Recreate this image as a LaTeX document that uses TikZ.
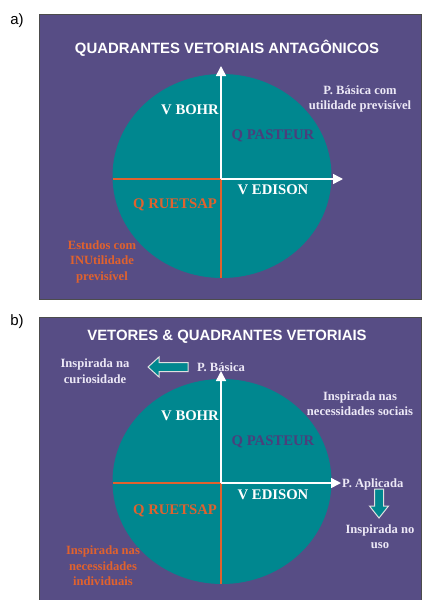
\documentclass[tikz,border=0pt]{standalone}
\usepackage{fontspec}
\setmainfont{Liberation Serif}
\setsansfont{Liberation Sans}
\usetikzlibrary{arrows.meta}
\definecolor{bgpurple}{HTML}{574D85}
\definecolor{teal2}{HTML}{00878F}
\definecolor{orng}{HTML}{E0622E}
\definecolor{dpurple}{HTML}{4B3F7C}
\definecolor{lightlbl}{HTML}{ECE8F6}
\tikzset{
  panel/.style={fill=bgpurple, draw=black!70, line width=1pt},
  disk/.style={fill=teal2},
  title/.style={font=\sffamily\bfseries\fontsize{14.9}{16}\selectfont, text=white, inner sep=0},
  big/.style={font=\bfseries\fontsize{14.7}{16}\selectfont, inner sep=0},
  small/.style={font=\bfseries\fontsize{12.6}{15.5}\selectfont, align=center, inner sep=0},
  plbl/.style={font=\sffamily\fontsize{15}{17}\selectfont, inner sep=0},
  waxis/.style={draw=white, line width=1.5pt},
  oaxis/.style={draw=orng, line width=2pt},
  tip/.style={-{Triangle[length=10pt,width=10pt]}},
  blockarrow/.style={fill=teal2, draw=black!12, line width=1pt, line join=miter}
}
\begin{document}
\begin{tikzpicture}[x=1pt,y=-1pt]
\useasboundingbox (0,0) rectangle (421,600);
\fill[white] (0,0) rectangle (421,600);

% ---------- panel a ----------
\node[plbl] (la) at (17,21) {a)};
\draw[panel] (39,14) rectangle (421.5,299);
\fill[disk] (222,176) ellipse [x radius=109.5, y radius=102];
\coordinate (ca) at (221,179);
\coordinate (ta) at (221,66);
\coordinate (ba) at (221,278);
\coordinate (lfa) at (113,179);
\coordinate (ra) at (343,179);
\draw[oaxis] (lfa) -- (ca) -- (ba);
\draw[waxis, tip] (ca) -- (ta);
\draw[waxis, tip] (ca) -- (ra);
\node[title] (titlea) at (227,48) {QUADRANTES VETORIAIS ANTAGÔNICOS};
\node[big, text=white] (bohra) at (190,110) {V BOHR};
\node[big, text=dpurple] (pasta) at (273,136) {Q PASTEUR};
\node[big, text=white] (edisa) at (273,190) {V EDISON};
\node[big, text=orng] (ruea) at (175,205) {Q RUETSAP};
\node[small, text=lightlbl] (basa) at (360,99) {P. Básica com\\utilidade previsível};
\node[small, text=orng] (estua) at (102,261.5) {Estudos com\\INUtilidade\\previsível};

% ---------- panel b ----------
\node[plbl] (lb) at (17,322) {b)};
\draw[panel] (39,317) rectangle (421.5,600.5);
\fill[disk] (222,481.5) ellipse [x radius=109.5, y radius=102.5];
\coordinate (cb) at (221,483);
\coordinate (tb) at (221,371);
\coordinate (bb) at (221,584);
\coordinate (lfb) at (113,483);
\coordinate (rb) at (341,483);
\draw[oaxis] (lfb) -- (cb) -- (bb);
\node[title] (titleb) at (227,337) {VETORES \& QUADRANTES VETORIAIS};
\node[small, text=lightlbl] (basb) at (221,367) {P. Básica};
\draw[waxis, tip] (cb) -- (tb);
\draw[waxis, tip] (cb) -- (rb);
\node[big, text=white] (bohrb) at (190,416) {V BOHR};
\node[big, text=dpurple] (pastb) at (273,442) {Q PASTEUR};
\node[big, text=white] (edisb) at (273,495) {V EDISON};
\node[big, text=orng] (rueb) at (175,511) {Q RUETSAP};
\node[small, text=lightlbl, anchor=west] (aplb) at (342,484) {P. Aplicada};
\node[small, text=lightlbl] (curb) at (95,371) {Inspirada na\\curiosidade};
\node[small, text=lightlbl] (socb) at (360,403.5) {Inspirada nas\\necessidades sociais};
\node[small, text=lightlbl] (usob) at (380,536.5) {Inspirada no\\uso};
\node[small, text=orng] (indb) at (103,566) {Inspirada nas\\necessidades\\individuais};

% block arrows
\draw[blockarrow] (148,367) -- (159,357) -- (159,362.5) -- (188,362.5) -- (188,371.5) -- (159,371.5) -- (159,377) -- cycle;
\draw[blockarrow] (379,518) -- (369.5,506) -- (374.5,506) -- (374.5,489) -- (383.5,489) -- (383.5,506) -- (388.5,506) -- cycle;
\end{tikzpicture}
\end{document}
